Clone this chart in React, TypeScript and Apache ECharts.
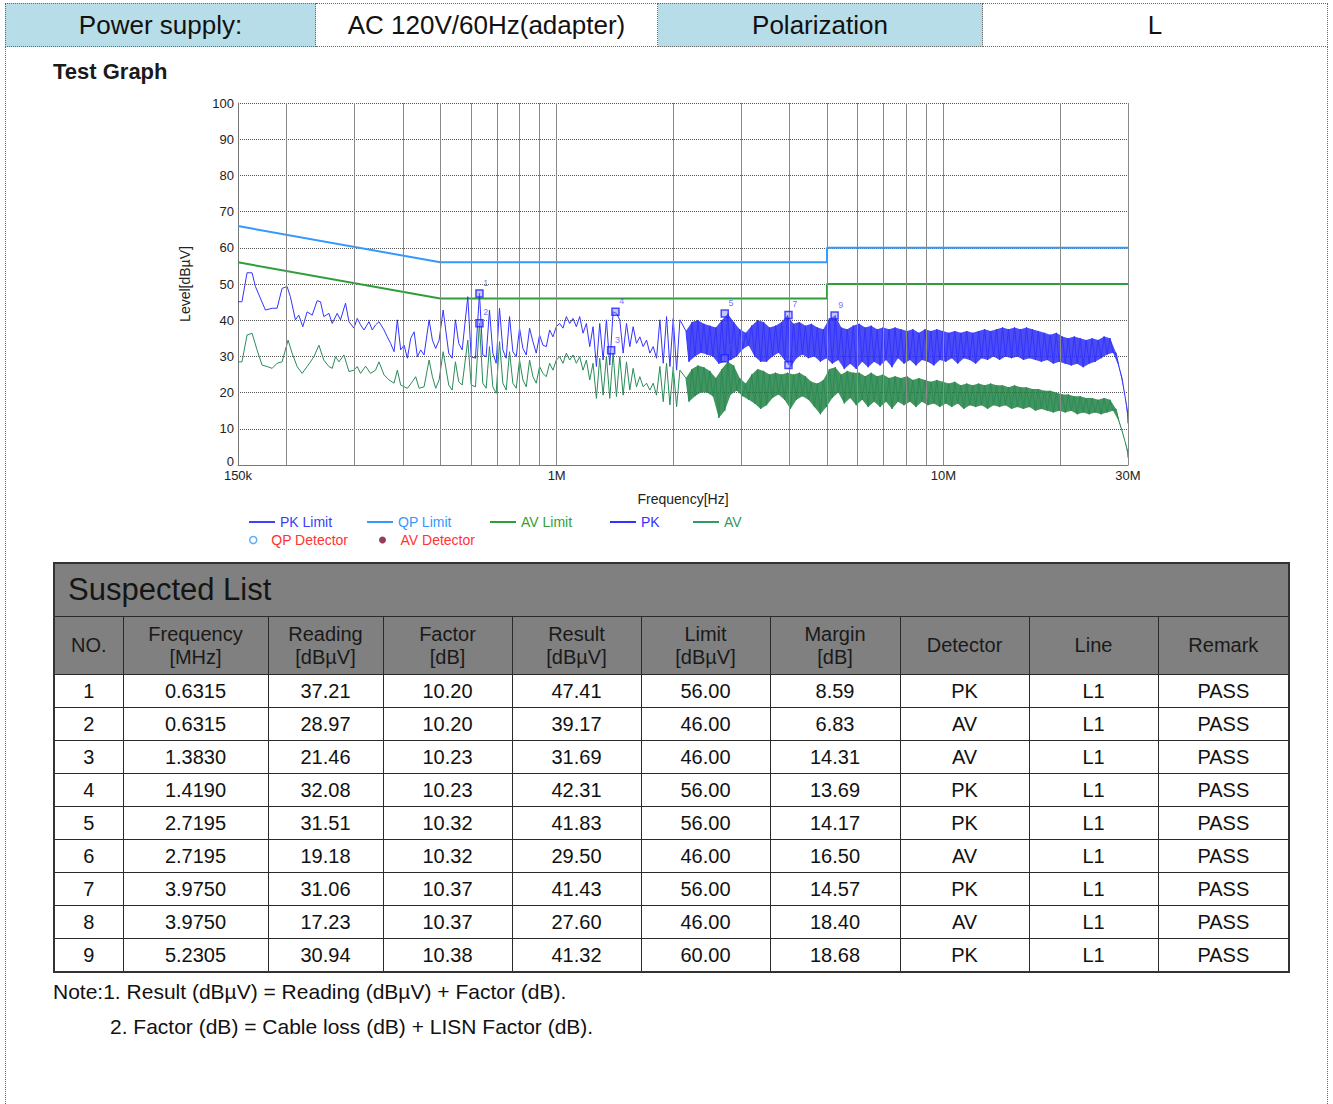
import React, { useEffect, useRef } from "react";
import * as echarts from "echarts";

const FONT = '"Liberation Sans", Arial, Helvetica, sans-serif';

// ---------- header / table data ----------
const headerCells = ["Power supply:", "AC 120V/60Hz(adapter)", "Polarization", "L"];
const tableTitle = "Suspected List";
const tableHeads = ["NO.", "Frequency\n[MHz]", "Reading\n[dBµV]", "Factor\n[dB]", "Result\n[dBµV]", "Limit\n[dBµV]", "Margin\n[dB]", "Detector", "Line", "Remark"];
const suspectNo = ["1", "2", "3", "4", "5", "6", "7", "8", "9"];
const suspectFreq = ["0.6315", "0.6315", "1.3830", "1.4190", "2.7195", "2.7195", "3.9750", "3.9750", "5.2305"];
const suspectReading = ["37.21", "28.97", "21.46", "32.08", "31.51", "19.18", "31.06", "17.23", "30.94"];
const suspectFactor = ["10.20", "10.20", "10.23", "10.23", "10.32", "10.32", "10.37", "10.37", "10.38"];
const suspectResult = ["47.41", "39.17", "31.69", "42.31", "41.83", "29.50", "41.43", "27.60", "41.32"];
const suspectLimit = ["56.00", "46.00", "46.00", "56.00", "56.00", "46.00", "56.00", "46.00", "60.00"];
const suspectMargin = ["8.59", "6.83", "14.31", "13.69", "14.17", "16.50", "14.57", "18.40", "18.68"];
const suspectDetector = ["PK", "AV", "AV", "PK", "PK", "AV", "PK", "AV", "PK"];
const suspectLine = ["L1", "L1", "L1", "L1", "L1", "L1", "L1", "L1", "L1"];
const suspectRemark = ["PASS", "PASS", "PASS", "PASS", "PASS", "PASS", "PASS", "PASS", "PASS"];
const notes = ["Note:1. Result (dBµV) = Reading (dBµV) + Factor (dB).", "2. Factor (dB) = Cable loss (dB) + LISN Factor (dB)."];

// ---------- chart data (frequency in MHz, level in dBµV) ----------
const xTickValues = [0.15, 1, 10, 30];
const gridFreqs = [0.2, 0.3, 0.4, 0.5, 0.6, 0.7, 0.8, 0.9, 1, 2, 3, 4, 5, 6, 7, 8, 9, 10, 20, 30];
const qpLimit = [[0.15, 66], [0.5, 56], [5, 56], [5, 60], [30, 60]];
const avLimit = [[0.15, 56], [0.5, 46], [5, 46], [5, 50], [30, 50]];

// low band sweep: [kHz, dBµV]
const pkLowKHz = [[150,45.1],[153.6,45.1],[158.3,53.1],[163.1,53.1],[166.4,49.3],[176.6,42.8],[183.8,43.3],[189.3,43.3],[195.0,48.8],[200.9,49.3],[204.9,46.5],[211.1,40.1],[215.4,41.4],[220.6,38.2],[226.4,42.3],[233.3,41.4],[240.3,45.4],[245.1,45.1],[250.0,41.0],[257.7,41.9],[262.8,39.1],[270.8,41.9],[276.1,40.1],[284.5,44.7],[290.4,39.6],[299.1,37.8],[305.1,40.5],[311.1,38.7],[317.5,37.3],[327.2,39.6],[333.6,37.3],[340.2,38.7],[347.2,39.6],[357.8,37.3],[364.8,35.4],[372.1,33.6],[379.8,31.3],[387.3,40.1],[395.1,31.8],[403.2,33.1],[411.2,29.5],[419.4,35.0],[428.0,36.8],[436.4,29.9],[445.0,31.8],[454.1,30.4],[467.9,40.1],[477.2,34.5],[486.6,32.2],[496.7,34.5],[508.7,42.8],[525.9,30.9],[536.7,29.5],[547.3,40.1],[558.2,33.6],[569.7,31.8],[589.1,46.5],[601.1,29.9],[616.6,29.5]];
const avLowKHz = [[150,28.5],[153.6,28.5],[158.3,35.9],[163.1,36.4],[168.0,31.8],[173.1,27.6],[178.4,27.2],[183.8,26.7],[189.3,28.1],[195.0,28.5],[202.1,34.5],[207.0,30.9],[213.3,27.2],[219.7,25.3],[226.4,27.2],[235.7,29.9],[242.8,33.1],[250.0,29.0],[257.7,27.2],[262.8,26.7],[268.1,29.9],[273.5,28.5],[281.8,30.4],[290.4,25.8],[299.1,26.2],[305.1,27.2],[311.1,25.3],[320.6,27.3],[330.2,25.3],[340.2,26.2],[347.2,28.5],[357.8,24.9],[368.6,23.5],[379.8,22.6],[387.3,26.2],[395.1,22.1],[403.2,21.6],[411.2,21.2],[423.6,23.0],[432.0,24.4],[440.9,21.2],[454.1,21.6],[467.9,29.0],[477.2,24.4],[486.6,21.2],[496.7,23.5],[508.7,31.3],[525.9,22.1],[536.7,20.7],[547.3,28.5],[558.2,23.0],[569.7,22.1],[589.1,34.5],[601.1,22.1],[616.6,21.6]];

// mid band sweep (even log steps from 0.6315 MHz to 2.0829 MHz)
const midStartMHz = 0.6315;
const midStopMHz = 2.0829;
const pkMid = [47.4,30.4,29.9,42.8,30.9,28.1,43.3,31.8,29.5,41.0,31.3,29.9,37.8,32.2,30.4,37.8,34.1,30.9,35.9,33.1,32.7,37.3,35.4,38.2,39.1,37.8,41.0,39.1,40.5,38.2,41.0,36.4,39.1,32.7,38.2,27.2,39.1,29.0,40.1,27.6,42.3,41.9,40.1,30.9,39.1,32.7,38.2,33.6,35.4,32.7,34.5,30.9,32.7,29.5,40.1,28.1,41.0,27.2,40.5,26.2,40.1];
const avMid = [39.2,22.6,21.2,32.7,21.6,19.8,34.1,22.6,20.7,31.3,22.6,21.2,29.0,23.5,21.6,29.0,24.4,22.6,27.2,25.3,24.4,28.1,26.2,29.0,29.9,28.1,30.9,29.0,30.4,28.1,29.9,26.2,29.0,23.5,28.1,18.4,29.5,19.3,29.9,18.4,30.9,18.9,29.9,19.3,28.5,20.7,26.7,21.6,24.4,21.6,22.6,20.7,22.6,19.3,27.2,17.5,28.1,16.6,27.2,16.1,26.2];

// dense band sweep (even log steps from 2.159 MHz to 30 MHz): peak / trough readings
const denseStartMHz = 2.159;
const denseStopMHz = 30;
const pkDenseHi = [37.0,39.5,40.0,39.0,38.5,38.0,40.0,41.8,39.5,37.5,36.5,38.5,40.0,39.5,38.0,38.5,39.5,41.4,39.0,39.5,38.5,39.0,38.0,37.5,40.5,41.3,38.0,37.5,38.5,39.0,38.0,38.5,37.5,38.0,37.5,38.0,37.5,37.0,37.5,36.5,37.5,37.0,37.5,37.0,36.5,37.0,36.5,37.0,36.5,37.0,37.5,37.0,37.5,38.0,37.5,38.0,37.5,38.0,37.5,37.0,36.5,36.0,36.5,35.5,35.0,35.5,35.0,34.5,35.0,34.5,35.5,35.0,31.0,24.0,14.0];
const pkDenseLo = [28.5,30.0,31.0,30.5,30.0,28.0,28.5,29.0,30.0,32.0,33.0,30.0,28.5,28.5,30.0,31.0,29.0,27.0,29.5,30.5,29.5,30.0,28.5,29.5,28.0,29.0,26.5,28.0,26.5,28.5,27.0,28.5,27.5,29.0,27.0,29.5,28.0,29.0,27.5,29.0,28.5,27.5,29.0,28.5,29.5,28.0,29.5,29.0,28.0,29.5,29.0,30.0,29.0,30.0,29.5,30.0,29.0,29.5,29.0,28.5,29.0,28.0,28.5,28.0,27.5,28.0,27.0,28.0,28.5,29.5,30.5,31.0,27.0,19.0,11.5];
const avDenseHi = [24.0,26.5,27.5,27.0,26.0,24.0,26.5,28.5,27.5,24.0,22.5,25.0,26.5,26.0,25.0,25.5,25.0,25.5,25.0,25.5,24.5,23.0,22.5,23.5,26.5,27.0,25.0,26.0,25.5,25.5,24.5,25.5,24.5,25.0,24.0,24.5,24.0,24.5,23.5,24.0,23.5,23.0,23.5,23.0,22.5,23.0,22.0,22.5,22.0,22.5,22.0,22.5,22.0,22.0,21.5,22.0,21.5,21.5,21.0,21.0,20.5,20.5,20.0,19.5,19.5,19.0,19.0,18.5,18.5,18.0,18.5,18.0,15.5,9.5,3.5];
const avDenseLo = [17.5,19.0,20.0,20.0,19.0,13.0,15.0,19.5,20.5,19.0,18.0,17.0,15.5,16.5,18.5,19.5,18.0,15.5,18.0,19.0,18.0,16.0,14.0,16.0,18.5,20.0,17.0,18.5,16.5,18.0,16.0,17.5,16.0,17.5,15.5,17.5,16.5,17.5,16.0,17.5,16.5,17.0,16.0,17.0,16.0,17.0,15.5,16.5,16.0,16.5,15.5,16.5,16.0,16.5,15.5,16.0,15.5,16.0,15.0,15.5,15.0,14.5,15.0,14.5,15.0,14.0,14.5,14.0,14.5,14.0,14.5,15.0,12.0,6.5,2.0];

// ---------- helpers ----------
function sweepGrid(start: number, stop: number, n: number): number[] {
  const out: number[] = [];
  for (let i = 0; i < n; i++) out.push(start * Math.pow(stop / start, i / (n - 1)));
  return out;
}

function buildTrace(low: number[][], mid: number[], hi: number[], lo: number[]) {
  const line: number[][] = low.map(([k, v]) => [k / 1000, v]);
  const midF = sweepGrid(midStartMHz, midStopMHz, mid.length);
  mid.forEach((v, i) => line.push([midF[i], v]));
  const dF = sweepGrid(denseStartMHz, denseStopMHz, hi.length);
  const hiPts: number[][] = [];
  const loPts: number[][] = [];
  hi.forEach((v, i) => {
    const f = dF[i];
    const fNext = i < dF.length - 1 ? Math.sqrt(f * dF[i + 1]) : f;
    hiPts.push([f, v]);
    loPts.push([fNext, lo[i]]);
    line.push([f, v]);
    line.push([fNext, lo[i]]);
  });
  return { line, hiPts, loPts };
}

const pkTrace = buildTrace(pkLowKHz, pkMid, pkDenseHi, pkDenseLo);
const avTrace = buildTrace(avLowKHz, avMid, avDenseHi, avDenseLo);

function bandSeries(tr: { hiPts: number[][]; loPts: number[][] }, fill: string, z: number) {
  return {
    type: "custom",
    silent: true,
    z,
    data: [tr.hiPts[0]],
    encode: { x: 0, y: 1 },
    renderItem: (_p: any, api: any) => {
      const pts: number[][] = [];
      tr.hiPts.forEach((p) => pts.push(api.coord(p)));
      tr.loPts.slice().reverse().forEach((p) => pts.push(api.coord(p)));
      return { type: "polygon", shape: { points: pts }, style: { fill, opacity: 0.82 } };
    },
  };
}

const legendDefs = [
  { name: "PK Limit", left: 249, top: 465, color: "#3b3bff", icon: "rect", h: 2 },
  { name: "QP Limit", left: 367, top: 465, color: "#3399ff", icon: "rect", h: 2 },
  { name: "AV Limit", left: 490, top: 465, color: "#33a033", icon: "rect", h: 2 },
  { name: "PK", left: 610, top: 465, color: "#3333ff", icon: "rect", h: 2 },
  { name: "AV", left: 693, top: 465, color: "#339966", icon: "rect", h: 2 },
  { name: "QP Detector", left: 249, top: 483, color: "#ff3333", icon: "circle", h: 7, itemStyle: { color: "#ffffff", borderColor: "#3399ff", borderWidth: 1.5 } },
  { name: "AV Detector", left: 379, top: 483, color: "#ff3333", icon: "circle", h: 7, itemStyle: { color: "#7a0a3a" } },
];

function buildOption() {
  return {
    animation: false,
    textStyle: { fontFamily: FONT },
    grid: { left: 238, top: 53, width: 890, height: 362 },
    xAxis: {
      type: "log",
      logBase: 10,
      min: xTickValues[0],
      max: xTickValues[xTickValues.length - 1],
      name: "Frequency[Hz]",
      nameLocation: "middle",
      nameGap: 27,
      nameTextStyle: { fontSize: 14, color: "#222", fontFamily: FONT },
      axisLine: { show: true, lineStyle: { color: "#777", width: 1 } },
      axisTick: { show: false },
      splitLine: { show: false },
      axisLabel: {
        fontSize: 13,
        color: "#222",
        margin: 4,
        showMinLabel: true,
        showMaxLabel: true,
        formatter: (v: number) => (v < 1 ? Math.round(v * 1000) + "k" : Math.round(v) + "M"),
      },
    },
    yAxis: {
      type: "value",
      min: 0,
      max: 100,
      interval: 10,
      name: "Level[dBµV]",
      nameLocation: "middle",
      nameRotate: 90,
      nameGap: 46,
      nameTextStyle: { fontSize: 14, color: "#222", fontFamily: FONT },
      axisLine: { show: true, lineStyle: { color: "#777", width: 1 } },
      axisTick: { show: false },
      axisLabel: {
        fontSize: 13,
        color: "#222",
        margin: 4,
        formatter: (v: number) => (v === 0 ? "{z|0}" : String(v)),
        rich: { z: { fontSize: 13, color: "#222", padding: [0, 0, 8, 0] } },
      },
      splitLine: { show: true, lineStyle: { type: "dotted", color: "#555", width: 1 } },
    },
    legend: legendDefs.map((d) => ({
      left: d.left,
      top: d.top,
      padding: 0,
      itemWidth: 26,
      itemHeight: d.h,
      selectedMode: false,
      textStyle: { fontSize: 14, fontFamily: FONT },
      data: [{ name: d.name, icon: d.icon, textStyle: { color: d.color }, ...(d.itemStyle ? { itemStyle: d.itemStyle } : {}) }],
    })),
    series: [
      {
        name: "_grid",
        type: "line",
        z: 1,
        data: [[0.15, 0]],
        symbol: "none",
        lineStyle: { opacity: 0 },
        silent: true,
        markLine: {
          silent: true,
          symbol: "none",
          label: { show: false },
          lineStyle: { type: "solid", color: "#8a8a8a", width: 1 },
          data: gridFreqs.map((f) => ({ xAxis: f })),
        },
      },
      { name: "PK Limit", type: "line", data: [], symbol: "none", itemStyle: { color: "#4040ff" }, lineStyle: { color: "#4040ff", width: 2 } },
      { name: "QP Limit", type: "line", z: 2, data: qpLimit, symbol: "none", itemStyle: { color: "#3399ff" }, lineStyle: { color: "#3399ff", width: 2 } },
      { name: "AV Limit", type: "line", z: 2, data: avLimit, symbol: "none", itemStyle: { color: "#2f9e3a" }, lineStyle: { color: "#2f9e3a", width: 2 } },
      bandSeries(avTrace, "#1a7d3c", 3),
      { name: "AV", type: "line", z: 3, data: avTrace.line, symbol: "none", itemStyle: { color: "#339966" }, lineStyle: { color: "#2a8c58", width: 1 } },
      bandSeries(pkTrace, "#2424f2", 4),
      { name: "PK", type: "line", z: 4, data: pkTrace.line, symbol: "none", itemStyle: { color: "#3333ff" }, lineStyle: { color: "#3434ff", width: 1 } },
      { name: "QP Detector", type: "scatter", data: [], itemStyle: { color: "#3399ff" } },
      { name: "AV Detector", type: "scatter", data: [], itemStyle: { color: "#7a0a3a" } },
      {
        name: "Suspected",
        type: "scatter",
        z: 6,
        symbol: "rect",
        symbolSize: 7,
        itemStyle: { color: "rgba(130,130,255,0.55)", borderColor: "#2020ff", borderWidth: 1.5 },
        label: { show: true, position: [8, -11], fontSize: 9, color: "#4d4dff", formatter: (p: any) => suspectNo[p.dataIndex] },
        data: suspectFreq.map((f, i) => [Number(f), Number(suspectResult[i])]),
      },
    ],
  };
}

const cellBase: React.CSSProperties = {
  position: "absolute",
  top: 3,
  height: 44,
  boxSizing: "border-box",
  display: "flex",
  alignItems: "center",
  justifyContent: "center",
  fontSize: 26,
  color: "#111",
  borderTop: "1px dotted #666",
  borderBottom: "1px dotted #666",
  borderRight: "1px dotted #666",
};

const headerLayout = [
  { left: 5, width: 311, bg: "#b7dde8" },
  { left: 316, width: 342, bg: "#ffffff" },
  { left: 658, width: 325, bg: "#b7dde8" },
  { left: 983, width: 345, bg: "#ffffff" },
];

const colWidths = [69, 145, 115, 129, 129, 129, 130, 129, 129, 131];

export default function App() {
  const ref = useRef<HTMLDivElement>(null);
  useEffect(() => {
    if (!ref.current) return;
    const chart = echarts.init(ref.current, null, { renderer: "svg" });
    chart.setOption(buildOption() as any);
    return () => chart.dispose();
  }, []);

  const rows = suspectNo.map((n, i) => [n, suspectFreq[i], suspectReading[i], suspectFactor[i], suspectResult[i], suspectLimit[i], suspectMargin[i], suspectDetector[i], suspectLine[i], suspectRemark[i]]);
  const tdBorder = "1px solid #2a2a2a";

  return (
    <div style={{ position: "absolute", left: 0, top: 0, width: 1333, height: 1104, background: "#fff", fontFamily: FONT, overflow: "hidden" }}>
      {headerCells.map((t, i) => (
        <div key={i} style={{ ...cellBase, left: headerLayout[i].left, width: headerLayout[i].width, background: headerLayout[i].bg, borderLeft: i === 0 ? "1px dotted #666" : undefined }}>
          {t}
        </div>
      ))}
      <div style={{ position: "absolute", left: 5, top: 47, width: 0, height: 1057, borderLeft: "1px dotted #666" }} />
      <div style={{ position: "absolute", left: 1327, top: 47, width: 0, height: 1057, borderLeft: "1px dotted #666" }} />
      <div style={{ position: "absolute", left: 53, top: 59, fontSize: 22, fontWeight: "bold", color: "#1a1a1a", lineHeight: "26px" }}>Test Graph</div>

      <div ref={ref} style={{ position: "absolute", left: 0, top: 50, width: 1333, height: 510 }} />

      <table style={{ position: "absolute", left: 53, top: 562, width: 1235, borderCollapse: "collapse", tableLayout: "fixed", border: "2px solid #333", color: "#111" }}>
        <colgroup>
          {colWidths.map((w, i) => (
            <col key={i} style={{ width: w }} />
          ))}
        </colgroup>
        <tbody>
          <tr>
            <td colSpan={10} style={{ height: 50, background: "#808080", fontSize: 31, paddingLeft: 13, textAlign: "left", border: tdBorder, color: "#151515" }}>
              {tableTitle}
            </td>
          </tr>
          <tr>
            {tableHeads.map((h, i) => (
              <td key={i} style={{ height: 57, background: "#808080", fontSize: 20, lineHeight: "23px", textAlign: "center", border: tdBorder, padding: 0, color: "#1a1a1a" }}>
                {h.split("\n").map((s, j) => (
                  <div key={j}>{s}</div>
                ))}
              </td>
            ))}
          </tr>
          {rows.map((r, i) => (
            <tr key={i}>
              {r.map((c, j) => (
                <td key={j} style={{ height: 32, fontSize: 20, textAlign: "center", border: tdBorder, padding: 0 }}>
                  {c}
                </td>
              ))}
            </tr>
          ))}
        </tbody>
      </table>

      <div style={{ position: "absolute", left: 53, top: 980, fontSize: 21, lineHeight: "24px", color: "#111", whiteSpace: "nowrap" }}>{notes[0]}</div>
      <div style={{ position: "absolute", left: 110, top: 1015, fontSize: 21, lineHeight: "24px", color: "#111", whiteSpace: "nowrap" }}>{notes[1]}</div>
    </div>
  );
}
